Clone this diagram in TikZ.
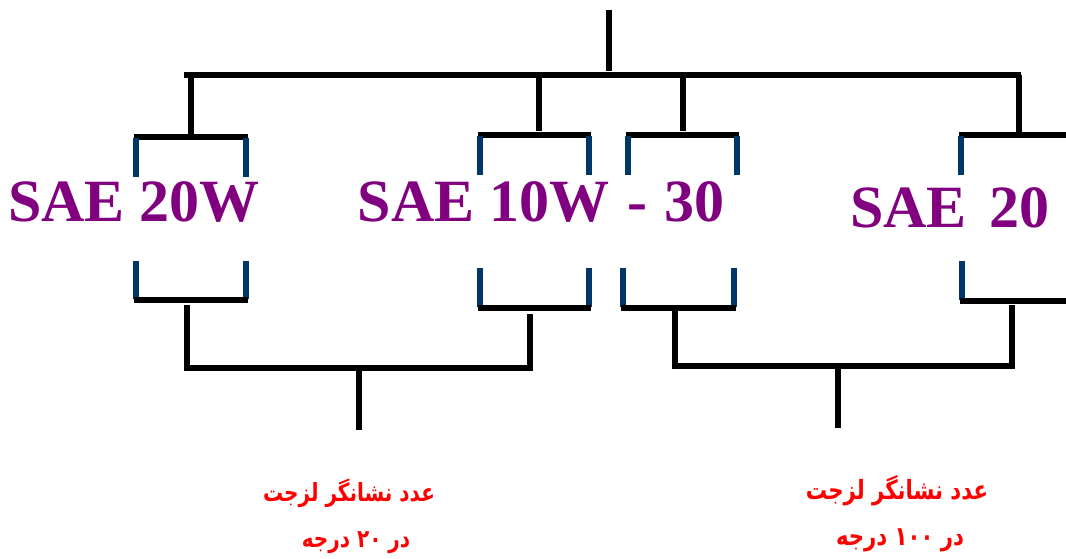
\documentclass[tikz,border=0pt]{standalone}
\usepackage{fontspec}
\setmainfont{Liberation Serif}
\newfontfamily\farsi[Script=Arabic, FakeStretch=0.8]{DejaVu Sans}
\TeXXeTstate=1
\definecolor{gradepurple}{RGB}{128,0,128}
\definecolor{bracketblue}{RGB}{0,54,104}

\tikzset{
    tree/.style={line width=5.5pt, black},
    brk/.style={line width=5.5pt, bracketblue},
    grade/.style={anchor=base, inner sep=0pt, text=gradepurple,
        font=\fontsize{60}{70}\selectfont\bfseries},
    note/.style={anchor=base, inner sep=0pt, text=red,
        font=\farsi\fontsize{25}{30}\selectfont\bfseries}
}

\begin{document}
\begin{tikzpicture}[x=1pt, y=-1pt]
    \useasboundingbox (0,0) rectangle (1066,559);

    % grade labels
    \node[grade] (w20) at (134,222) {SAE 20W};
    \node[grade] (mg) at (541,222) {SAE 10W\hspace{3pt} -\hspace{2pt} 30};
    \node[grade] (h20) at (950,227) {SAE\hspace{8pt} 20};

    % upper tree
    \coordinate (root) at (609,10);
    \coordinate (rootj) at (609,71);
    \coordinate (bl) at (184,75);
    \coordinate (br) at (1021,75);
    \draw[tree] (root) -- (rootj);
    \draw[tree] (bl) -- (br);

    \coordinate (t1) at (191,75);
    \coordinate (t2) at (539,72);
    \coordinate (t3) at (683,72);
    \coordinate (t4) at (1019,75);
    \draw[tree] (t1) -- (191,137);
    \draw[tree] (t2) -- (539,131);
    \draw[tree] (t3) -- (683,131);
    \draw[tree] (t4) -- (1019,135);

    % upper brackets
    \draw[tree] (134,137) -- (248,137);
    \draw[tree] (478,135) -- (591,135);
    \draw[tree] (626,135) -- (739,135);
    \draw[tree] (959,135) -- (1066,135);
    \draw[brk] (136,138) -- (136,177);
    \draw[brk] (246,138) -- (246,177);
    \draw[brk] (480,136) -- (480,175);
    \draw[brk] (589,136) -- (589,175);
    \draw[brk] (628,136) -- (628,175);
    \draw[brk] (737,136) -- (737,175);
    \draw[brk] (961,136) -- (961,175);

    % lower brackets
    \draw[brk] (136,261) -- (136,299);
    \draw[brk] (246,261) -- (246,299);
    \draw[brk] (480,268) -- (480,307);
    \draw[brk] (589,268) -- (589,307);
    \draw[brk] (623,268) -- (623,307);
    \draw[brk] (734,268) -- (734,307);
    \draw[brk] (962,261) -- (962,300);
    \draw[tree] (134,300) -- (248,300);
    \draw[tree] (478,308) -- (591,308);
    \draw[tree] (621,308) -- (736,308);
    \draw[tree] (960,301) -- (1066,301);

    % lower trees
    \coordinate (l1) at (187,305);
    \coordinate (l2) at (530,314);
    \coordinate (r1) at (675,308);
    \coordinate (r2) at (1012,305);
    \draw[tree] (l1) -- (187,368) -- (530,368) -- (l2);
    \draw[tree] (r1) -- (675,366) -- (1012,366) -- (r2);
    \coordinate (lj) at (359,368);
    \coordinate (rj) at (838,366);
    \draw[tree] (lj) -- (359,430);
    \draw[tree] (rj) -- (838,428);

    % notes
    \node[note] (n20a) at (349,501) {\beginR عدد نشانگر لزجت\endR};
    \node[note] (n20b) at (356,547) {\beginR در \beginL ۲۰\endL{} درجه\endR};
    \node[note, font=\farsi\fontsize{26.5}{30}\selectfont\bfseries] (n100a) at (897,499) {\beginR عدد نشانگر لزجت\endR};
    \node[note, font=\farsi\fontsize{26.5}{30}\selectfont\bfseries] (n100b) at (900,545) {\beginR در \beginL ۱۰۰\endL{} درجه\endR};
\end{tikzpicture}
\end{document}
